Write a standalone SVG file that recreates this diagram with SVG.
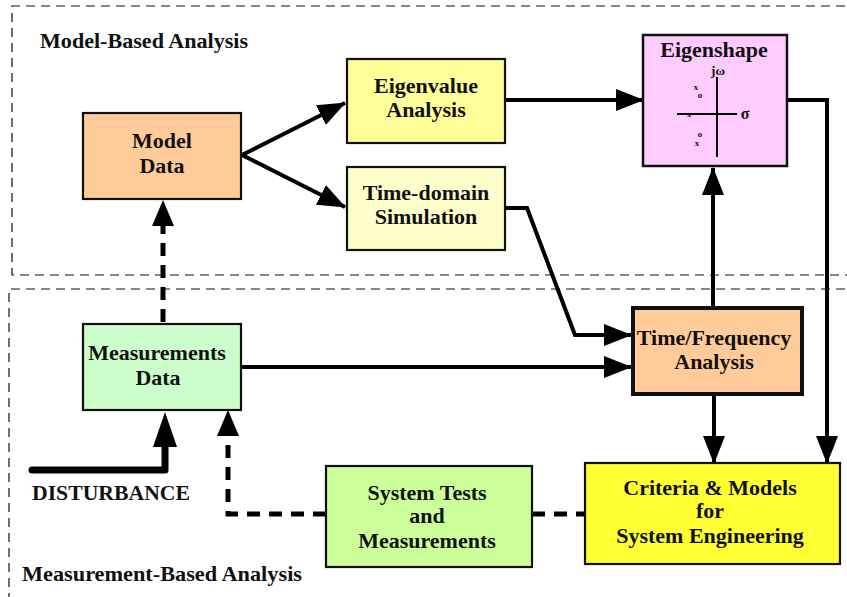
<svg xmlns="http://www.w3.org/2000/svg" width="847" height="597" viewBox="0 0 847 597">
<style>
.region{fill:none;stroke:#111;stroke-width:1.2;stroke-dasharray:9 6}
.box{stroke:#111;stroke-width:2.2}
.t{font-family:"Liberation Serif","Times New Roman",serif;font-weight:bold;font-size:22px;fill:#111;text-anchor:middle}
.hdr{font-family:"Liberation Serif","Times New Roman",serif;font-weight:bold;font-size:21px;fill:#111}
.arr{fill:none;stroke:#000;stroke-width:4;stroke-linejoin:miter}
.dash{fill:none;stroke:#000;stroke-width:5;stroke-dasharray:13 9}
.small{font-family:"Liberation Serif","Times New Roman",serif;font-weight:bold;font-size:9px;fill:#111;text-anchor:middle}
</style>
<defs>
<marker id="ah" markerUnits="userSpaceOnUse" markerWidth="28" markerHeight="22" refX="27" refY="11" orient="auto">
<path d="M0,0 L28,11 L0,22 Z" fill="#000"/>
</marker>
</defs>
<rect width="847" height="597" fill="#fff"/>

<g id="regions">
<path class="region" d="M860,6 L12,6 L12,275 L860,275"/>
<path class="region" d="M860,289 L9,289 L9,610"/>
<text class="hdr" x="40" y="48" textLength="208" lengthAdjust="spacingAndGlyphs">Model-Based Analysis</text>
<text class="hdr" x="22" y="581" textLength="280" lengthAdjust="spacingAndGlyphs">Measurement-Based Analysis</text>
</g>

<g id="connectors">
<path class="arr" d="M242,155 L345,103" marker-end="url(#ah)"/>
<path class="arr" d="M242,155 L345,207" marker-end="url(#ah)"/>
<path class="arr" d="M505,100 L643,100" marker-end="url(#ah)"/>
<path class="arr" d="M505,208 L527,208 L575,335 L631,335" marker-end="url(#ah)"/>
<path class="arr" d="M241,367 L631,367" marker-end="url(#ah)"/>
<path class="arr" d="M713,307 L713,168" marker-end="url(#ah)"/>
<path class="arr" d="M787,100 L827,100 L827,463" marker-end="url(#ah)"/>
<path class="arr" d="M714,395 L714,463" marker-end="url(#ah)"/>
<path class="dash" d="M163,322 L163,222"/>
<path d="M163,200 L152,226 L174,226 Z" fill="#000"/>
<path class="dash" d="M326,514 L228,514 L228,436"/>
<path d="M228,410 L217,436 L239,436 Z" fill="#000"/>
<path class="dash" d="M532,514 L585,514"/>
<path d="M32,470 L165,470 L165,440" fill="none" stroke="#000" stroke-width="7" stroke-linecap="round" stroke-linejoin="round"/>
<path d="M165,412 L153,447 L177,447 Z" fill="#000"/>
<text class="hdr" x="32" y="500" textLength="158" lengthAdjust="spacingAndGlyphs">DISTURBANCE</text>
</g>

<g id="model-data">
<rect class="box" x="83" y="113" width="158" height="86" fill="#FFCC99"/>
<text class="t" x="162" y="148">Model</text>
<text class="t" x="162" y="173">Data</text>
</g>

<g id="eigenvalue">
<rect class="box" x="347" y="59" width="158" height="84" fill="#FFFF99"/>
<text class="t" x="426" y="93">Eigenvalue</text>
<text class="t" x="426" y="117">Analysis</text>
</g>

<g id="time-domain">
<rect class="box" x="347" y="167" width="158" height="83" fill="#FFFFCC"/>
<text class="t" x="426" y="200">Time-domain</text>
<text class="t" x="426" y="224">Simulation</text>
</g>

<g id="eigenshape">
<rect x="643" y="35" width="144" height="131" fill="#FFCCFF" stroke="#111" stroke-width="2.5"/>
<text class="t" x="714" y="57">Eigenshape</text>
<text class="small" x="718" y="75" style="font-size:13px">jω</text>
<line x1="717" y1="77" x2="717" y2="157" stroke="#000" stroke-width="2"/>
<line x1="677" y1="114" x2="737" y2="114" stroke="#000" stroke-width="2"/>
<text class="small" x="745" y="119" style="font-size:16px">σ</text>
<text class="small" x="696" y="90">x</text>
<text class="small" x="700" y="98">o</text>
<text class="small" x="689" y="117">x</text>
<text class="small" x="700" y="137">o</text>
<text class="small" x="697" y="146">x</text>
</g>

<g id="measurements-data">
<rect class="box" x="83" y="324" width="158" height="86" fill="#CCFFCC"/>
<text class="t" x="157" y="360">Measurements</text>
<text class="t" x="158" y="385">Data</text>
</g>

<g id="time-frequency">
<rect x="633" y="308" width="169" height="86" fill="#FFCC99" stroke="#111" stroke-width="4"/>
<text class="t" x="714" y="345">Time/Frequency</text>
<text class="t" x="714" y="369">Analysis</text>
</g>

<g id="criteria">
<rect class="box" x="585" y="463" width="255" height="101" fill="#FFFF33"/>
<text class="t" x="710" y="495">Criteria &amp; Models</text>
<text class="t" x="710" y="518">for</text>
<text class="t" x="710" y="543">System Engineering</text>
</g>

<g id="system-tests">
<rect class="box" x="326" y="466" width="206" height="101" fill="#CCFF99"/>
<text class="t" x="427" y="500">System Tests</text>
<text class="t" x="427" y="523">and</text>
<text class="t" x="427" y="548">Measurements</text>
</g>
</svg>
